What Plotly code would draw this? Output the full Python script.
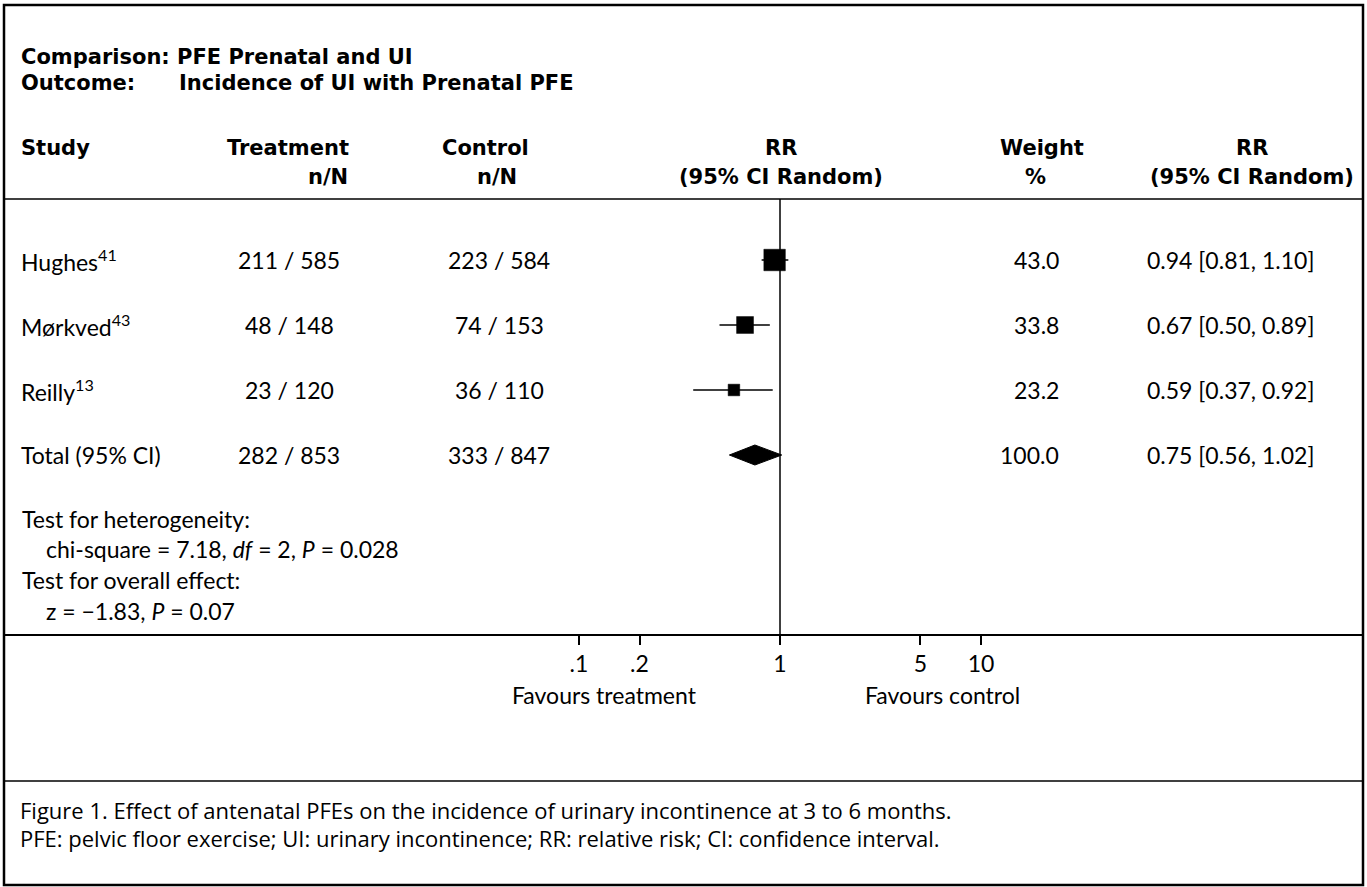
import plotly.graph_objects as go

W, H = 1367, 887

# ---------------- data ----------------
studies = ["Hughes", "Mørkved", "Reilly"]
study_refs = ["41", "43", "13"]
treat_n = [211, 48, 23]
treat_N = [585, 148, 120]
ctrl_n = [223, 74, 36]
ctrl_N = [584, 153, 110]
rr = [0.94, 0.67, 0.59]
rr_lo = [0.81, 0.50, 0.37]
rr_hi = [1.10, 0.89, 0.92]
weights = [43.0, 33.8, 23.2]
total_label = "Total (95% CI)"
total_treat = [282, 853]
total_ctrl = [333, 847]
total_rr = [0.75, 0.56, 1.02]
total_weight = 100.0
tick_vals = [0.1, 0.2, 1, 5, 10]
tick_text = [".1", ".2", "1", "5", "10"]

# ---------------- layout helpers ----------------
FONT = "Lato, 'Open Sans', sans-serif"
BFONT = "'DejaVu Sans', sans-serif"
CFONT = "'Open Sans', sans-serif"
FS = 23
BFS = 21
row_y = [260, 325, 390, 455]          # study rows + total row (pixels from top)
BL, BR, BT, BB = 4, 1363, 5, 885      # outer frame
x_one_px, decade_px = 780, 201        # pixel position of RR=1 and width of a decade
x_range = [(BL - x_one_px) / decade_px, (BR - x_one_px) / decade_px]

fig = go.Figure()

# CI lines and squares
for i in range(len(studies)):
    fig.add_trace(go.Scatter(x=[rr_lo[i], rr_hi[i]], y=[row_y[i], row_y[i]], mode="lines",
                             line=dict(color="black", width=1.5), hoverinfo="skip", showlegend=False))
fig.add_trace(go.Scatter(x=rr, y=row_y[:3], mode="markers",
                         marker=dict(symbol="square", color="black", opacity=1,
                                     size=[w * 0.5 for w in weights],
                                     line=dict(width=0.5, color="black")),
                         hoverinfo="skip", showlegend=False))
# diamond
ty = row_y[3]
dh = 10
fig.add_trace(go.Scatter(x=[total_rr[1], total_rr[0], total_rr[2], total_rr[0], total_rr[1]],
                         y=[ty, ty - dh, ty, ty + dh, ty], mode="lines", fill="toself",
                         fillcolor="black", line=dict(color="black", width=1),
                         hoverinfo="skip", showlegend=False))

annotations = []


def txt(x, y, text, anchor="left", bold=False, size=None, family=None):
    if bold:
        text = "<b>" + text + "</b>"
        fam = family or BFONT
        sz = size or BFS
    else:
        fam = family or FONT
        sz = size or FS
    annotations.append(dict(x=x / W, xref="paper", y=y, yref="y", text=text, showarrow=False,
                            xanchor=anchor, yanchor="middle",
                            font=dict(family=fam, size=sz, color="black")))


# header
txt(19, 57, "Comparison: PFE Prenatal and UI", bold=True)
txt(19, 83, "Outcome:", bold=True)
txt(177, 83, "Incidence of UI with Prenatal PFE", bold=True)

txt(19, 148, "Study", bold=True)
txt(288, 148, "Treatment", "center", bold=True)
txt(350, 177, "n/N", "right", bold=True)
txt(485, 148, "Control", "center", bold=True)
txt(519, 177, "n/N", "right", bold=True)
txt(781, 148, "RR", "center", bold=True)
txt(781, 177, "(95% CI Random)", "center", bold=True)
txt(1042, 148, "Weight", "center", bold=True)
txt(1035, 177, "%", "center", bold=True)
txt(1252, 148, "RR", "center", bold=True)
txt(1252, 177, "(95% CI Random)", "center", bold=True)

# rows
for i in range(len(studies)):
    y = row_y[i]
    txt(19, y, f"{studies[i]}<sup>{study_refs[i]}</sup>")
    txt(289, y, f"{treat_n[i]} / {treat_N[i]}", "center")
    txt(499, y, f"{ctrl_n[i]} / {ctrl_N[i]}", "center")
    txt(1061, y, f"{weights[i]:.1f}", "right")
    txt(1316, y, f"{rr[i]:.2f} [{rr_lo[i]:.2f}, {rr_hi[i]:.2f}]", "right")

y = row_y[3]
txt(19, y, total_label)
txt(289, y, f"{total_treat[0]} / {total_treat[1]}", "center")
txt(499, y, f"{total_ctrl[0]} / {total_ctrl[1]}", "center")
txt(1061, y, f"{total_weight:.1f}", "right")
txt(1316, y, f"{total_rr[0]:.2f} [{total_rr[1]:.2f}, {total_rr[2]:.2f}]", "right")

# statistics
txt(20, 519, "Test for heterogeneity:")
txt(44, 549, "chi-square = 7.18, <i>df</i> = 2, <i>P</i> = 0.028")
txt(20, 580, "Test for overall effect:")
txt(44, 611, "z = −1.83, <i>P</i> = 0.07")

# axis captions
txt(699, 695, "Favours treatment", "right")
txt(942, 695, "Favours control", "center")

# figure caption
txt(18, 810, "Figure 1. Effect of antenatal PFEs on the incidence of urinary incontinence at 3 to 6 months.",
    size=22, family=CFONT)
txt(18, 838, "PFE: pelvic floor exercise; UI: urinary incontinence; RR: relative risk; CI: confidence interval.",
    size=22, family=CFONT)

shapes = []


def hline(y, w=1.5):
    shapes.append(dict(type="line", xref="paper", yref="y", x0=BL / W, x1=BR / W, y0=y, y1=y,
                       line=dict(color="black", width=w)))


hline(199)
hline(781)
# vertical line at RR = 1
shapes.append(dict(type="line", xref="x", yref="y", x0=1, x1=1, y0=199, y1=635,
                   line=dict(color="black", width=1.5)))
# outer border
shapes.append(dict(type="rect", xref="paper", yref="y", x0=BL / W, x1=BR / W, y0=BT, y1=BB,
                   line=dict(color="black", width=2.5)))

fig.update_layout(
    width=W, height=H, autosize=False,
    margin=dict(l=0, r=0, t=0, b=0),
    paper_bgcolor="white", plot_bgcolor="white",
    annotations=annotations, shapes=shapes,
    xaxis=dict(type="log", range=x_range, domain=[BL / W, BR / W], anchor="free", position=1 - 635 / H,
               showline=True, linecolor="black", linewidth=1.5, mirror=False,
               ticks="outside", ticklen=9, tickwidth=1.5, tickcolor="black",
               tickvals=tick_vals, ticktext=tick_text,
               tickfont=dict(family=FONT, size=FS, color="black"),
               showgrid=False, zeroline=False, fixedrange=True),
    yaxis=dict(range=[H, 0], domain=[0, 1], visible=False, fixedrange=True),
    showlegend=False,
)

fig.write_html("out.html", config={"displayModeBar": False},
               post_script="document.body.style.margin='0px';")
